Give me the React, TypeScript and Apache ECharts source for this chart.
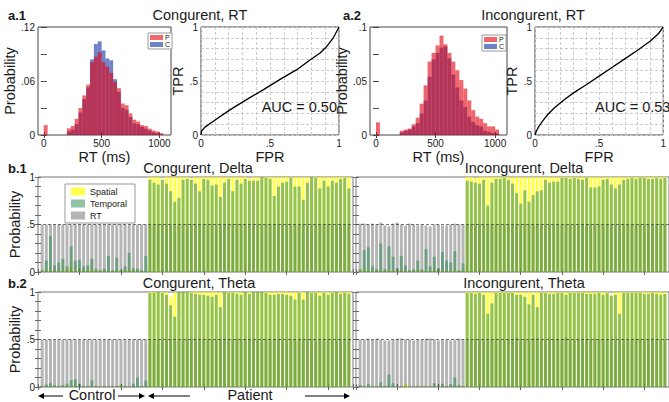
import { useEffect, useRef } from 'react';
import * as echarts from 'echarts';

const FONT = '"Liberation Sans", Arial, Helvetica, sans-serif';
const INK = '#1a1a1a';

// ---------- a: RT histograms (bin k spans [k*BIN_MS, (k+1)*BIN_MS) ms) ----------
const BIN_MS = 100 / 3;
const rtBinIndex = [0, 6, 7, 8, 9, 10, 11, 12, 13, 14, 15, 16, 17, 18, 19, 20, 21, 22, 23, 24, 25, 26, 27, 28, 29, 30];
const a1Patient = [0.011, 0.0074, 0.010, 0.018, 0.030, 0.044, 0.056, 0.081, 0.087, 0.092, 0.081, 0.076, 0.069, 0.059, 0.052, 0.035, 0.033, 0.024, 0.017, 0.015, 0.011, 0.010, 0.007, 0.005, 0.004, 0.002];
const a1Control = [0, 0.004, 0.006, 0.012, 0.025, 0.040, 0.053, 0.084, 0.101, 0.104, 0.094, 0.085, 0.083, 0.062, 0.048, 0.030, 0.028, 0.020, 0.013, 0.012, 0.009, 0.007, 0.005, 0.003, 0.002, 0.001];
const a2Patient = [0.0117, 0.004, 0.005, 0.006, 0.010, 0.016, 0.029, 0.046, 0.068, 0.076, 0.083, 0.092, 0.084, 0.076, 0.068, 0.060, 0.051, 0.043, 0.032, 0.023, 0.017, 0.015, 0.011, 0.008, 0.008, 0.005];
const a2Control = [0, 0.0025, 0.004, 0.005, 0.008, 0.011, 0.020, 0.032, 0.054, 0.070, 0.076, 0.081, 0.082, 0.071, 0.056, 0.044, 0.032, 0.026, 0.017, 0.012, 0.009, 0.008, 0.004, 0.003, 0.002, 0.0015];
const rtTickValues = [0, 500, 1000];

// ---------- a: ROC curves ----------
const roc1Fpr = [0, 0.005, 0.031, 0.092, 0.212, 0.333, 0.453, 0.573, 0.694, 0.79, 0.863, 0.911, 0.959, 1];
const roc1Tpr = [0, 0.04, 0.075, 0.13, 0.235, 0.33, 0.42, 0.515, 0.605, 0.695, 0.76, 0.82, 0.9, 1];
const roc2Fpr = [0, 0.01, 0.03, 0.06, 0.1, 0.15, 0.22, 0.3, 0.4, 0.5, 0.6, 0.7, 0.8, 0.9, 0.96, 1];
const roc2Tpr = [0, 0.035, 0.08, 0.13, 0.19, 0.25, 0.32, 0.39, 0.465, 0.545, 0.625, 0.705, 0.785, 0.87, 0.935, 1];
const aucLabels = ['AUC = 0.50', 'AUC = 0.53'];

// ---------- b: per-subject classification probabilities (26 control, then 49 patient) ----------
const N_CONTROL = 26;
const subjectIndex = Array.from({ length: 75 }, (_, i) => i + 1);

const congDeltaTemporal = [
  0.02, 0.12, 0.38, 0.07, 0.10, 0.14, 0.06, 0.27, 0.12, 0.13, 0.06, 0.07, 0.14, 0.035, 0.02, 0.035, 0.17, 0.02, 0.15, 0.02, 0.06, 0.20, 0.04, 0.035, 0.02, 0.17,
  0.97, 0.94, 0.92, 0.97, 0.93, 0.85, 0.74, 0.78, 0.97, 0.98, 0.97, 0.93, 0.85, 0.98, 0.97, 0.91, 0.92, 0.79, 0.94, 0.98, 0.85, 0.97, 0.93, 0.98, 0.96, 0.96, 0.96, 1.0, 0.99, 0.98, 0.80, 0.90, 0.94, 0.95, 0.99, 0.90, 0.90, 0.76, 0.94, 1.0, 0.99, 0.88, 0.96, 0.90, 0.96, 0.94, 0.98, 0.99, 0.88,
];
const congDeltaSpatial = [
  0.01, 0.01, 0.03, 0.01, 0.02, 0.01, 0.02, 0.06, 0.01, 0.02, 0.01, 0.02, 0.03, 0.01, 0.01, 0.02, 0.01, 0.01, 0.02, 0.01, 0.02, 0.03, 0.01, 0.02, 0.01, 0.01,
  1, 1, 1, 0.98, 1, 1, 1, 1, 1, 1, 0.99, 1, 1, 1, 1, 1, 1, 1, 1, 1, 1, 1, 1, 1, 0.99, 1, 1, 1, 1, 1, 1, 1, 1, 1, 1, 1, 1, 1, 1, 1, 1, 1, 1, 1, 1, 1, 1, 1, 1, 1, 1, 1, 1,
];
const congDeltaRT = [
  0.5, 0.5, 0.5, 0.5, 0.5, 0.5, 0.5, 0.5, 0.5, 0.5, 0.5, 0.5, 0.5, 0.5, 0.5, 0.5, 0.5, 0.5, 0.5, 0.5, 0.5, 0.5, 0.5, 0.5, 0.5, 0.5,
  0.5, 0.5, 0.5, 0.5, 0.5, 0.5, 0.5, 0.5, 0.5, 0.5, 0.5, 0.5, 0.5, 0.5, 0.5, 0.5, 0.5, 0.5, 0.5, 0.5, 0.5, 0.5, 0.5, 0.5, 0.5, 0.5, 0.5, 0.5, 0.5, 0.5, 0.5, 0.5, 0.5, 0.5, 0.5, 0.5, 0.5, 0.5, 0.5, 0.5, 0.5, 0.5, 0.5, 0.5, 0.5, 0.5, 0.5, 0.5, 0.5,
];

const incDeltaTemporal = [
  0.03, 0.23, 0.26, 0.06, 0.03, 0.30, 0.03, 0.27, 0.16, 0.04, 0.17, 0.07, 0.02, 0.03, 0.12, 0.03, 0.24, 0.06, 0.16, 0.04, 0.21, 0.12, 0.10, 0.22, 0.02, 0.09,
  0.96, 0.95, 0.94, 0.93, 0.97, 0.70, 0.94, 0.98, 0.98, 0.99, 0.97, 0.93, 0.83, 0.72, 0.86, 0.74, 0.81, 0.85, 0.86, 0.97, 0.94, 0.95, 0.95, 0.99, 0.99, 0.98, 0.99, 0.98, 0.97, 0.99, 0.89, 0.89, 0.90, 0.97, 0.98, 0.92, 0.88, 0.92, 0.97, 0.98, 0.99, 0.98, 0.99, 0.99, 0.98, 0.98, 0.99, 0.98, 0.99,
];
const incDeltaSpatial = [
  0.01, 0.03, 0.01, 0.01, 0.02, 0.01, 0.01, 0.02, 0.01, 0.01, 0.02, 0.01, 0.01, 0.01, 0.02, 0.01, 0.01, 0.01, 0.02, 0.01, 0.01, 0.01, 0.01, 0.02, 0.01, 0.01,
  1, 1, 0.99, 1, 1, 1, 1, 1, 1, 1, 1, 1, 1, 1, 1, 1, 1, 1, 1, 1, 1, 1, 1, 1, 1, 1, 1, 1, 1, 1, 1, 1, 1, 1, 1, 1, 1, 1, 1, 1, 1, 1, 1, 1, 1, 1, 1, 1, 1,
];
const incDeltaRT = [
  0.51, 0.51, 0.50, 0.51, 0.50, 0.52, 0.49, 0.48, 0.51, 0.52, 0.50, 0.49, 0.51, 0.50, 0.49, 0.50, 0.49, 0.48, 0.50, 0.50, 0.49, 0.49, 0.50, 0.51, 0.50, 0.50,
  0.5, 0.5, 0.5, 0.5, 0.5, 0.5, 0.5, 0.5, 0.5, 0.5, 0.5, 0.5, 0.5, 0.5, 0.51, 0.5, 0.5, 0.5, 0.5, 0.5, 0.5, 0.5, 0.5, 0.5, 0.5, 0.5, 0.5, 0.5, 0.5, 0.5, 0.5, 0.5, 0.5, 0.5, 0.5, 0.5, 0.5, 0.5, 0.5, 0.5, 0.5, 0.5, 0.5, 0.5, 0.5, 0.5, 0.5, 0.5, 0.5,
];

const congThetaTemporal = [
  0.01, 0.025, 0.04, 0.02, 0.01, 0.02, 0.035, 0.07, 0.08, 0.035, 0.01, 0.01, 0.07, 0.01, 0.005, 0.01, 0.005, 0.005, 0.01, 0.02, 0.01, 0.005, 0.035, 0.10, 0.01, 0.07,
  0.99, 0.99, 1.0, 0.99, 0.97, 0.86, 0.74, 1.0, 1.0, 1.0, 0.99, 0.98, 0.97, 0.97, 0.96, 0.95, 0.97, 0.84, 1.0, 0.99, 0.99, 0.98, 0.97, 1.0, 0.98, 1.0, 1.0, 1.0, 0.99, 0.97, 0.97, 0.98, 0.98, 0.97, 0.96, 0.92, 0.99, 0.92, 1.0, 0.99, 0.99, 0.96, 0.99, 0.97, 0.99, 1.0, 0.98, 0.99, 0.98,
];
const congThetaSpatial = [
  0.005, 0.005, 0.01, 0.005, 0.005, 0.005, 0.005, 0.01, 0.005, 0.005, 0.005, 0.005, 0.005, 0.005, 0.005, 0.005, 0.005, 0.005, 0.005, 0.02, 0.005, 0.005, 0.005, 0.005, 0.005, 0.005,
  1, 1, 1, 1, 1, 0.95, 1, 1, 1, 1, 1, 1, 1, 1, 1, 1, 1, 1, 1, 1, 1, 1, 1, 1, 1, 1, 1, 1, 1, 1, 1, 1, 1, 1, 1, 1, 1, 1, 1, 1, 1, 1, 1, 1, 1, 1, 1, 1, 1,
];
const congThetaRT = [
  0.5, 0.5, 0.5, 0.5, 0.5, 0.5, 0.5, 0.5, 0.5, 0.5, 0.5, 0.5, 0.5, 0.5, 0.5, 0.5, 0.5, 0.5, 0.5, 0.5, 0.5, 0.5, 0.5, 0.5, 0.5, 0.5,
  0.5, 0.5, 0.5, 0.5, 0.5, 0.5, 0.5, 0.5, 0.5, 0.5, 0.5, 0.5, 0.5, 0.5, 0.5, 0.5, 0.5, 0.5, 0.5, 0.5, 0.5, 0.5, 0.5, 0.5, 0.5, 0.5, 0.5, 0.5, 0.5, 0.5, 0.5, 0.5, 0.5, 0.5, 0.5, 0.5, 0.5, 0.5, 0.5, 0.5, 0.5, 0.5, 0.5, 0.5, 0.5, 0.5, 0.5, 0.5, 0.5,
];

const incThetaTemporal = [
  0.02, 0.005, 0.03, 0.005, 0.005, 0.05, 0.01, 0.13, 0.04, 0.005, 0.005, 0.005, 0.005, 0.005, 0.01, 0.005, 0.005, 0.005, 0.04, 0.005, 0.035, 0.005, 0.03, 0.10, 0.02, 0.005,
  0.99, 0.99, 0.98, 0.99, 0.97, 0.77, 0.88, 0.99, 0.99, 0.99, 0.99, 0.99, 0.97, 0.97, 0.95, 0.87, 0.97, 0.84, 0.99, 0.99, 0.98, 0.98, 0.99, 0.99, 0.97, 0.99, 0.99, 0.99, 0.99, 0.98, 0.98, 0.98, 0.99, 0.97, 0.99, 0.96, 0.97, 0.77, 0.99, 0.99, 0.99, 0.99, 0.99, 0.98, 0.98, 0.99, 0.98, 0.97, 0.98,
];
const incThetaSpatial = [
  0.005, 0.005, 0.005, 0.005, 0.005, 0.005, 0.005, 0.005, 0.005, 0.005, 0.005, 0.035, 0.005, 0.005, 0.005, 0.005, 0.005, 0.005, 0.005, 0.005, 0.005, 0.005, 0.005, 0.005, 0.005, 0.005,
  1, 1, 1, 1, 1, 1, 1, 1, 1, 1, 1, 1, 1, 1, 1, 1, 1, 1, 1, 1, 1, 1, 1, 1, 1, 1, 1, 1, 1, 1, 1, 1, 1, 1, 1, 0.97, 1, 1, 1, 1, 1, 1, 1, 1, 1, 1, 1, 1, 1,
];
const incThetaRT = [
  0.50, 0.50, 0.51, 0.50, 0.51, 0.50, 0.49, 0.49, 0.50, 0.51, 0.51, 0.50, 0.50, 0.49, 0.50, 0.50, 0.51, 0.51, 0.50, 0.49, 0.50, 0.50, 0.49, 0.50, 0.51, 0.50,
  0.5, 0.5, 0.5, 0.5, 0.5, 0.5, 0.5, 0.51, 0.5, 0.5, 0.5, 0.5, 0.52, 0.5, 0.5, 0.5, 0.51, 0.52, 0.5, 0.5, 0.51, 0.5, 0.5, 0.5, 0.52, 0.5, 0.5, 0.5, 0.5, 0.5, 0.5, 0.5, 0.5, 0.5, 0.5, 0.5, 0.5, 0.5, 0.5, 0.5, 0.5, 0.5, 0.5, 0.5, 0.5, 0.5, 0.5, 0.5, 0.5,
];

// ---------- styles ----------
const COL_P = 'rgba(230,0,13,0.6)';
const COL_C = 'rgba(13,47,163,0.6)';
const COL_SPATIAL = 'rgba(255,255,0,0.7)';
const COL_TEMPORAL = 'rgba(40,135,75,0.5)';
const COL_RT = 'rgba(0,0,0,0.29)';
const COL_RT_OVER = 'rgba(0,0,0,0.18)';

const tickFmt = (shown: number[]) => (v: number) => {
  const r = Math.round(v * 1000) / 1000;
  if (!shown.some((s) => Math.abs(s - r) < 1e-6)) return '';
  return r === 0 ? '0' : String(r).replace(/^0\./, '.');
};

function buildOption() {
  const grid: any[] = [];
  const xAxis: any[] = [];
  const yAxis: any[] = [];
  const series: any[] = [];
  const nameStyle = { fontFamily: FONT, fontSize: 14.5, color: INK };
  const labelStyle = { fontFamily: FONT, fontSize: 10, color: INK, margin: 3 };

  const addGrid = (box: any, border: string) => {
    grid.push({ show: true, borderColor: border, borderWidth: 1, backgroundColor: 'transparent', ...box });
    return grid.length - 1;
  };

  const histPanel = (box: any, P: number[], C: number[], yMax: number, yStep: number, yShown: number[]) => {
    const gi = addGrid(box, '#444');
    const xi = xAxis.length;
    xAxis.push({
      gridIndex: gi, type: 'value', min: -50, max: 1100, position: 'bottom',
      axisLine: { show: false }, splitLine: { show: false },
      axisTick: { show: true, inside: true, length: 3, customValues: rtTickValues, lineStyle: { color: '#444' } },
      axisLabel: { ...labelStyle, customValues: rtTickValues, formatter: (v: number) => String(v) },
      name: 'RT (ms)', nameLocation: 'middle', nameGap: 14, nameTextStyle: nameStyle,
    });
    xAxis.push({
      gridIndex: gi, type: 'value', min: -50, max: 1100, position: 'top',
      axisLine: { show: false }, splitLine: { show: false }, axisLabel: { show: false },
      axisTick: { show: true, inside: true, length: 3, customValues: rtTickValues, lineStyle: { color: '#444' } },
    });
    const yi = yAxis.length;
    yAxis.push({
      gridIndex: gi, type: 'value', min: 0, max: yMax, interval: yStep, position: 'left',
      axisLine: { show: false }, splitLine: { show: false },
      axisTick: { show: true, inside: true, length: 3, lineStyle: { color: '#444' } },
      axisLabel: { ...labelStyle, formatter: tickFmt(yShown) },
      name: 'Probability', nameLocation: 'middle', nameGap: 16, nameTextStyle: nameStyle,
    });
    yAxis.push({
      gridIndex: gi, type: 'value', min: 0, max: yMax, interval: yStep, position: 'right',
      axisLine: { show: false }, splitLine: { show: false }, axisLabel: { show: false },
      axisTick: { show: true, inside: true, length: 3, lineStyle: { color: '#444' } },
    });
    const mk = (name: string, vals: number[], color: string) => ({
      type: 'custom', name, xAxisIndex: xi, yAxisIndex: yi,
      itemStyle: { color },
      encode: { x: [0, 1], y: 2 },
      data: rtBinIndex.map((k, i) => [k * BIN_MS, (k + 1) * BIN_MS, vals[i]]),
      renderItem: (_p: any, api: any) => {
        const a = api.coord([api.value(0), api.value(2)]);
        const b = api.coord([api.value(1), 0]);
        return { type: 'rect', shape: { x: a[0], y: a[1], width: b[0] - a[0], height: b[1] - a[1] }, style: api.style() };
      },
    });
    series.push(mk('C', C, COL_C));
    series.push(mk('P', P, COL_P));
  };

  const rocPanel = (box: any, fpr: number[], tpr: number[]) => {
    const gi = addGrid(box, '#444');
    const shown = [0, 0.5, 1];
    const common = {
      gridIndex: gi, type: 'value', min: 0, max: 1, interval: 0.1,
      axisLine: { show: false },
      splitLine: { show: true, lineStyle: { color: '#cccccc', type: [3, 2], width: 1 } },
      axisTick: { show: false },
      axisLabel: { ...labelStyle, formatter: tickFmt(shown) },
      nameLocation: 'middle', nameTextStyle: nameStyle,
    };
    const xi = xAxis.length;
    xAxis.push({ ...common, position: 'bottom', name: 'FPR', nameGap: 14 });
    const yi = yAxis.length;
    yAxis.push({ ...common, position: 'left', name: 'TPR', nameGap: 6 });
    series.push({
      type: 'line', name: 'ROC', xAxisIndex: xi, yAxisIndex: yi, showSymbol: false, symbol: 'none',
      lineStyle: { color: '#000', width: 1.3 },
      data: fpr.map((f, i) => [f, tpr[i]]),
    });
  };

  const bPanel = (box: any, temporal: number[], spatial: number[], rt: number[], leftLabels: boolean) => {
    const gi = addGrid(box, '#777');
    const xCommon = {
      gridIndex: gi, type: 'value', min: 0, max: 76, interval: 10,
      axisLine: { show: false }, splitLine: { show: false }, axisLabel: { show: false },
      axisTick: { show: true, inside: true, length: 3, lineStyle: { color: '#666' } },
    };
    const xi = xAxis.length;
    xAxis.push({ ...xCommon, position: 'bottom' });
    xAxis.push({ ...xCommon, position: 'top' });
    const yCommon = {
      gridIndex: gi, type: 'value', min: 0, max: 1, interval: 0.1,
      axisLine: { show: false }, splitLine: { show: false },
      axisTick: { show: true, inside: true, length: 3, lineStyle: { color: '#666' } },
    };
    const yi = yAxis.length;
    yAxis.push({
      ...yCommon, position: 'left',
      axisLabel: leftLabels ? { ...labelStyle, formatter: tickFmt([0, 0.5, 1]) } : { show: false },
      ...(leftLabels ? { name: 'Probability', nameLocation: 'middle', nameGap: 16, nameTextStyle: nameStyle } : {}),
    });
    yAxis.push({ ...yCommon, position: 'right', axisLabel: { show: false } });
    const mk = (name: string, vals: number[], color: string, extra: any = {}) => ({
      type: 'bar', name, xAxisIndex: xi, yAxisIndex: yi, barWidth: 3, barGap: '-100%',
      itemStyle: { color }, data: subjectIndex.map((s, i) => [s, vals[i]]), ...extra,
    });
    series.push(mk('Spatial', spatial, COL_SPATIAL));
    series.push(mk('RT', rt, COL_RT, {
      data: subjectIndex.map((s, i) => ({
        value: [s, rt[i]],
        itemStyle: { color: i < N_CONTROL ? COL_RT : COL_RT_OVER },
      })),
    }));
    series.push(mk('Temporal', temporal, COL_TEMPORAL, {
      markLine: {
        silent: true, symbol: ['none', 'none'], label: { show: false },
        lineStyle: { color: 'rgba(70,70,70,0.75)', type: [3, 2], width: 1 },
        data: [{ yAxis: 0.5 }],
      },
    }));
  };

  histPanel({ left: 38, top: 27, width: 133, height: 108 }, a1Patient, a1Control, 0.12, 0.03, [0, 0.06, 0.12]);
  rocPanel({ left: 201, top: 27, width: 138, height: 108 }, roc1Fpr, roc1Tpr);
  histPanel({ left: 370, top: 27, width: 137, height: 108 }, a2Patient, a2Control, 0.1, 0.025, [0, 0.05, 0.1]);
  rocPanel({ left: 535, top: 27, width: 140, height: 108 }, roc2Fpr, roc2Tpr);

  bPanel({ left: 38, top: 177, width: 315, height: 95 }, congDeltaTemporal, congDeltaSpatial, congDeltaRT, true);
  bPanel({ left: 356, top: 177, width: 316, height: 95 }, incDeltaTemporal, incDeltaSpatial, incDeltaRT, false);
  bPanel({ left: 38, top: 292, width: 315, height: 95 }, congThetaTemporal, congThetaSpatial, congThetaRT, true);
  bPanel({ left: 356, top: 292, width: 316, height: 95 }, incThetaTemporal, incThetaSpatial, incThetaRT, false);

  const txt = (text: string, x: number, y: number, size: number, align = 'left', bold = false) => ({
    type: 'text', x, y, silent: true, z: 10,
    style: { text, font: `${bold ? 'bold ' : ''}${size}px ${FONT}`, fill: INK, textAlign: align, textVerticalAlign: 'middle' },
  });
  const arrow = (xTail: number, xHead: number, y: number) => {
    const dir = xHead > xTail ? 1 : -1;
    return [
      { type: 'line', silent: true, z: 10, shape: { x1: xTail, y1: y, x2: xHead - dir * 5, y2: y }, style: { stroke: '#000', lineWidth: 1 } },
      { type: 'polygon', silent: true, z: 10, shape: { points: [[xHead, y], [xHead - dir * 6, y - 3], [xHead - dir * 6, y + 3]] }, style: { fill: '#000' } },
    ];
  };

  const graphic: any[] = [
    txt('a.1', 8, 15, 13, 'left', true),
    txt('Congurent, RT', 200, 15, 14.5, 'center'),
    txt('a.2', 343, 15, 13, 'left', true),
    txt('Incongurent, RT', 533, 15, 14.5, 'center'),
    txt(aucLabels[0], 337, 107, 14.5, 'right'),
    txt(aucLabels[1], 595, 107, 14.5, 'left'),
    txt('b.1', 8, 168, 13, 'left', true),
    txt('Congurent, Delta', 198, 168, 14.5, 'center'),
    txt('Incongurent, Delta', 524, 168, 14.5, 'center'),
    txt('b.2', 8, 283, 13, 'left', true),
    txt('Congurent, Theta', 199, 283, 14.5, 'center'),
    txt('Incongurent, Theta', 524, 283, 14.5, 'center'),
    txt('Control', 92, 395, 14.5, 'center'),
    txt('Patient', 250, 395, 14.5, 'center'),
    ...arrow(63, 38, 396),
    ...arrow(118, 145, 396),
    ...arrow(190, 148, 396),
    ...arrow(305, 350, 396),
  ];

  const histLegend = (left: number, top: number) => ({
    data: ['P', 'C'], orient: 'vertical', left, top, icon: 'rect', itemWidth: 13, itemHeight: 5, itemGap: 0,
    padding: [1, 2, 1, 2], borderColor: '#999', borderWidth: 1, backgroundColor: '#fff', selectedMode: false,
    textStyle: { fontFamily: FONT, fontSize: 7, color: INK, padding: [0, 0, 0, -3] },
  });

  return {
    animation: false,
    backgroundColor: '#fff',
    grid, xAxis, yAxis, series, graphic,
    legend: [
      histLegend(148, 33),
      histLegend(482, 35),
      {
        data: ['Spatial', 'Temporal', 'RT'], orient: 'vertical', left: 65, top: 184, icon: 'rect',
        itemWidth: 14, itemHeight: 8, itemGap: 3, padding: [3, 8, 3, 6], borderColor: '#999', borderWidth: 1,
        backgroundColor: '#fff', selectedMode: false,
        textStyle: { fontFamily: FONT, fontSize: 9, color: INK },
      },
    ],
  };
}

export default function App() {
  const ref = useRef<HTMLDivElement>(null);
  useEffect(() => {
    if (!ref.current) return;
    const chart = echarts.init(ref.current, null, { renderer: 'svg' });
    chart.setOption(buildOption() as any);
    return () => chart.dispose();
  }, []);
  return (
    <div
      ref={ref}
      style={{ position: 'fixed', left: 0, top: 0, width: 669, height: 402, background: '#fff', overflow: 'hidden' }}
    />
  );
}
